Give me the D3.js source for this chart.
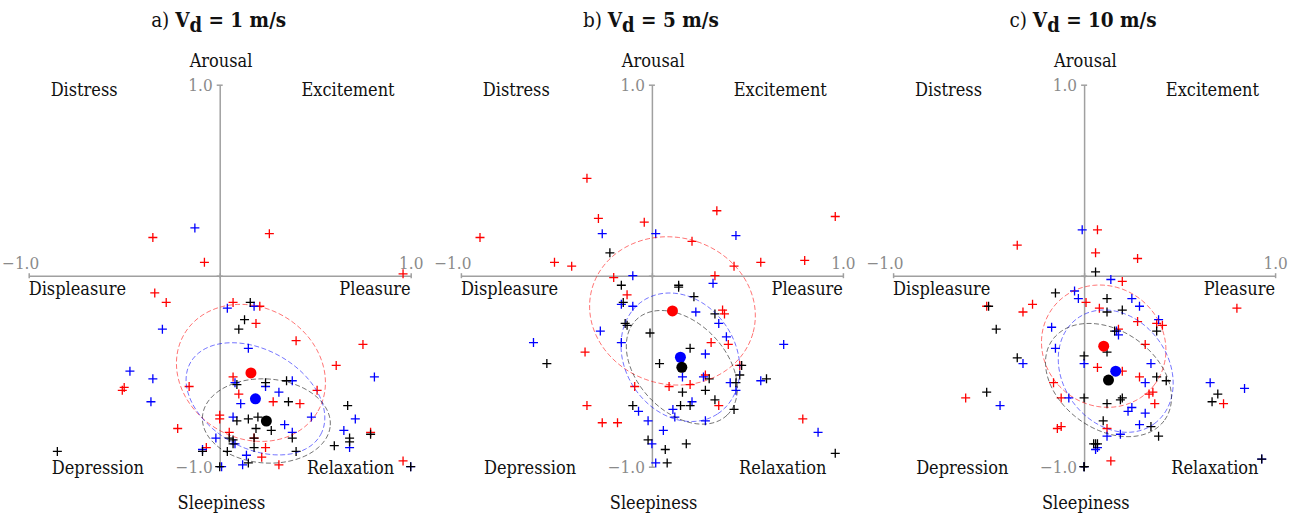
<!DOCTYPE html>
<html>
<head>
<meta charset="utf-8">
<script src="https://cdn.jsdelivr.net/npm/d3@7"></script>
<style>
  body { margin: 0; background: #fff; }
  svg text { font-family: "DejaVu Serif Condensed", "DejaVu Serif", serif; font-stretch: condensed; }
</style>
</head>
<body>
<svg id="chart" width="1296" height="514"></svg>
<script>
// valence / arousal ratings, one array per speed and group
var redA = [[-0.35,0.20],[0.26,0.22],[-0.08,0.07],[0.96,0.01],[-0.34,-0.09],[-0.28,-0.14],[0.07,-0.14],[0.21,-0.16],[0.19,-0.25],[0.40,-0.34],[0.75,-0.36],[0.61,-0.47],[-0.16,-0.58],[-0.51,-0.60],[-0.50,-0.585],[0.07,-0.53],[0.10,-0.62],[0.28,-0.66],[0.42,-0.67],[0.51,-0.60],[0.00,-0.73],[0.00,-0.75],[-0.22,-0.80],[0.05,-0.82],[0.18,-0.85],[-0.07,-0.90],[0.24,-0.90],[0.22,-0.95],[0.31,-0.99],[0.79,-0.82],[0.96,-0.97]];
var blueA = [[-0.13,0.25],[0.04,-0.17],[0.18,-0.16],[-0.30,-0.28],[0.15,-0.38],[-0.47,-0.50],[-0.35,-0.54],[-0.36,-0.66],[0.81,-0.53],[0.08,-0.56],[0.38,-0.55],[0.24,-0.58],[0.31,-0.61],[0.11,-0.67],[0.48,-0.74],[0.07,-0.74],[0.34,-0.78],[0.38,-0.82],[-0.02,-0.85],[0.08,-0.88],[0.71,-0.75],[0.65,-0.81],[0.68,-0.90],[-0.09,-0.91],[0.14,-0.94],[0.12,-0.99],[0.01,-1.0],[1.0,-1.0]];
var blackA = [[0.16,-0.14],[0.13,-0.23],[0.10,-0.28],[0.24,-0.56],[0.35,-0.55],[0.09,-0.57],[0.36,-0.66],[0.67,-0.68],[0.20,-0.74],[0.15,-0.75],[0.09,-0.76],[0.19,-0.80],[0.27,-0.81],[0.38,-0.85],[0.05,-0.85],[0.07,-0.86],[0.07,-0.88],[0.18,-0.85],[0.18,-0.90],[0.40,-0.92],[0.04,-0.92],[-0.09,-0.92],[0.15,-0.98],[0.60,-0.89],[0.68,-0.87],[0.68,-0.85],[0.79,-0.83],[1.0,-1.0],[-0.85,-0.92],[0.0,-1.0]];

var redB = [[-0.34,0.51],[-0.90,0.20],[-0.28,0.30],[-0.04,0.28],[0.34,0.34],[0.96,0.31],[0.21,0.18],[-0.51,0.07],[-0.42,0.05],[0.43,0.05],[0.57,0.07],[0.80,0.08],[-0.20,-0.01],[0.33,0.0],[-0.13,-0.10],[0.37,-0.18],[0.38,-0.20],[0.31,-0.35],[0.40,-0.36],[-0.35,-0.40],[0.46,-0.47],[-0.09,-0.58],[0.09,-0.58],[0.20,-0.57],[0.28,-0.52],[-0.34,-0.68],[-0.26,-0.77],[-0.18,-0.77],[0.35,-0.68],[0.79,-0.75]];
var blueB = [[-0.26,0.22],[0.02,0.22],[0.44,0.21],[-0.10,0.0],[0.32,-0.04],[-0.16,-0.15],[-0.10,-0.16],[0.23,-0.19],[0.35,-0.25],[0.39,-0.32],[-0.27,-0.29],[-0.62,-0.35],[-0.16,-0.35],[0.28,-0.41],[0.69,-0.36],[0.16,-0.53],[0.27,-0.53],[0.41,-0.56],[0.44,-0.60],[0.57,-0.55],[0.21,-0.66],[0.11,-0.70],[-0.07,-0.71],[-0.02,-0.76],[0.12,-0.74],[0.28,-0.76],[0.06,-0.81],[0.87,-0.82],[0.0,-0.88],[0.02,-0.98]];
var blackB = [[-0.22,0.12],[-0.16,-0.05],[0.14,-0.06],[0.14,-0.05],[0.22,-0.11],[-0.15,-0.14],[0.33,-0.20],[-0.14,-0.25],[-0.13,-0.26],[-0.01,-0.30],[0.20,-0.38],[0.04,-0.46],[-0.55,-0.46],[0.47,-0.47],[0.46,-0.52],[0.30,-0.54],[0.44,-0.56],[0.60,-0.54],[0.16,-0.61],[0.28,-0.60],[0.33,-0.65],[-0.10,-0.68],[0.15,-0.68],[0.20,-0.68],[0.43,-0.70],[-0.02,-0.86],[0.07,-0.91],[0.18,-0.88],[0.08,-0.98],[0.96,-0.93]];

var redC = [[0.07,0.24],[-0.35,0.16],[0.06,0.12],[0.28,0.09],[0.20,-0.03],[-0.51,-0.16],[-0.27,-0.15],[-0.32,-0.19],[0.01,-0.14],[0.08,-0.17],[0.80,-0.17],[0.28,-0.24],[0.38,-0.25],[0.41,-0.26],[0.18,-0.28],[0.32,-0.36],[0.07,-0.48],[0.20,-0.50],[0.29,-0.53],[-0.16,-0.56],[0.36,-0.61],[0.34,-0.62],[0.37,-0.67],[-0.12,-0.64],[-0.62,-0.64],[0.73,-0.67],[-0.12,-0.79],[-0.14,-0.80],[0.12,-0.80],[0.14,-0.97]];
var blueC = [[-0.01,0.24],[0.14,-0.02],[-0.05,-0.08],[-0.03,-0.12],[0.25,-0.12],[0.29,-0.16],[-0.17,-0.27],[0.39,-0.23],[0.17,-0.29],[0.18,-0.31],[-0.15,-0.38],[-0.32,-0.46],[0.0,-0.46],[0.35,-0.46],[0.32,-0.56],[-0.08,-0.64],[-0.44,-0.68],[0.25,-0.69],[0.23,-0.71],[0.32,-0.72],[0.66,-0.56],[0.84,-0.59],[0.29,-0.78],[0.12,-0.84],[0.19,-0.83],[0.07,-0.90],[0.06,-0.91],[0.93,-0.96],[0.0,-1.0]];
var blackC = [[0.06,0.02],[-0.15,-0.09],[-0.50,-0.16],[0.12,-0.12],[0.12,-0.19],[0.20,-0.18],[-0.46,-0.28],[0.38,-0.29],[0.16,-0.29],[-0.35,-0.43],[0.0,-0.42],[0.12,-0.40],[0.38,-0.53],[0.43,-0.55],[-0.51,-0.61],[0.0,-0.64],[0.20,-0.64],[0.19,-0.65],[0.12,-0.67],[0.70,-0.62],[0.67,-0.66],[0.10,-0.76],[0.35,-0.79],[0.39,-0.84],[0.05,-0.88],[0.07,-0.88],[0.06,-0.88],[0.0,-1.0],[0.0,-1.0],[0.93,-0.96]];

var panelLetters = ['a)', 'b)', 'c)'];
var speeds = [1, 5, 10];
var groupColors = ['#ff0000', '#0000ff', '#000000'];
var tickValues = [-1, 0, 1];
var quadrantLabels = ['Distress', 'Excitement', 'Depression', 'Relaxation'];
var axisLabels = ['Arousal', 'Sleepiness', 'Displeasure', 'Pleasure'];

var groupsByPanel = [[redA, blueA, blackA], [redB, blueB, blackB], [redC, blueC, blackC]];

var svg = d3.select('#chart');
var R = 191, CY = 275.7;

// 1-sigma covariance ellipse of a point set
function ellipse(pts) {
  var mx = d3.mean(pts, function (d) { return d[0]; });
  var my = d3.mean(pts, function (d) { return d[1]; });
  var sxx = 0, syy = 0, sxy = 0, n = pts.length;
  pts.forEach(function (d) {
    var dx = d[0] - mx, dy = d[1] - my;
    sxx += dx * dx; syy += dy * dy; sxy += dx * dy;
  });
  sxx /= (n - 1); syy /= (n - 1); sxy /= (n - 1);
  var m = (sxx + syy) / 2, h = Math.sqrt(Math.pow((sxx - syy) / 2, 2) + sxy * sxy);
  var a = Math.sqrt(m + h), b = Math.sqrt(Math.max(m - h, 0));
  var th = 0.5 * Math.atan2(2 * sxy, sxx - syy);
  return d3.range(0, 121).map(function (k) {
    var t = k / 120 * 2 * Math.PI;
    var u = a * Math.cos(t), v = b * Math.sin(t);
    return [mx + u * Math.cos(th) - v * Math.sin(th), my + u * Math.sin(th) + v * Math.cos(th)];
  });
}

groupsByPanel.forEach(function (groups, i) {
  var cx = 219.7 + 432.2 * i;
  var x = d3.scaleLinear().domain([-1, 1]).range([cx - R, cx + R]);
  var y = d3.scaleLinear().domain([-1, 1]).range([CY + R, CY - R]);
  var g = svg.append('g');

  // title
  var title = g.append('text').attr('x', cx - 1).attr('y', 26.5)
    .attr('text-anchor', 'middle').attr('font-size', 20.5).attr('fill', '#111');
  title.append('tspan').text(panelLetters[i] + ' ');
  title.append('tspan').attr('font-weight', 'bold').text('V');
  title.append('tspan').attr('font-weight', 'bold').attr('font-size', 20).attr('dy', 5).text('d');
  title.append('tspan').attr('font-weight', 'bold').attr('dy', -5).text(' = ' + speeds[i] + ' m/s');

  // axes
  var fmt = function (d) { return d === 0 ? '' : d3.format('.1f')(d); };
  var xAxis = g.append('g').attr('transform', 'translate(0,' + y(0) + ')')
    .call(d3.axisBottom(x).tickValues(tickValues).tickSize(0).tickFormat(fmt));
  xAxis.selectAll('.tick line').attr('y1', -2.5).attr('y2', 2.5);
  xAxis.selectAll('.tick text').attr('y', -13).attr('dy', '0.35em')
    .attr('text-anchor', function (d) { return d < 0 ? 'end' : 'middle'; })
    .attr('x', function (d) { return d < 0 ? 10 : 0; });

  var yAxis = g.append('g').attr('transform', 'translate(' + x(0) + ',0)')
    .call(d3.axisLeft(y).tickValues(tickValues).tickSize(0).tickFormat(fmt));
  yAxis.selectAll('.tick line').attr('x1', -3).attr('x2', 3);
  yAxis.selectAll('.tick text').attr('x', -7).attr('dy', '0.35em');

  g.selectAll('.domain, .tick line').attr('stroke', '#a0a0a0').attr('stroke-width', 1.5);
  g.selectAll('.tick text').attr('fill', '#8a8a8a').attr('font-size', 17)
    .attr('font-family', '"DejaVu Serif Condensed", "DejaVu Serif", serif');

  // circumplex labels
  var labelPos = [
    { t: quadrantLabels[0], v: -0.71, a: 0.972, anchor: 'middle' },
    { t: quadrantLabels[1], v: 0.672, a: 0.972, anchor: 'middle' },
    { t: quadrantLabels[2], v: -0.638, a: -1.005, anchor: 'middle' },
    { t: quadrantLabels[3], v: 0.685, a: -1.005, anchor: 'middle' },
    { t: axisLabels[0], v: 0.007, a: 1.124, anchor: 'middle' },
    { t: axisLabels[1], v: 0.009, a: -1.188, anchor: 'middle' },
    { t: axisLabels[2], v: -1, a: -0.07, anchor: 'start' },
    { t: axisLabels[3], v: 1, a: -0.07, anchor: 'end' }
  ];
  g.selectAll('.lab').data(labelPos).enter().append('text')
    .attr('class', 'lab')
    .attr('x', function (d) { return x(d.v); })
    .attr('y', function (d) { return y(d.a); })
    .attr('dy', '0.35em')
    .attr('text-anchor', function (d) { return d.anchor; })
    .attr('font-size', 18).attr('fill', '#111')
    .text(function (d) { return d.t; });

  var line = d3.line().x(function (d) { return x(d[0]); }).y(function (d) { return y(d[1]); });

  // individual ratings
  groups.forEach(function (pts, k) {
    g.append('g').selectAll('path').data(pts).enter().append('path')
      .attr('d', function (d) {
        var px = x(d[0]), py = y(d[1]);
        return 'M' + (px - 4.5) + ',' + py + 'H' + (px + 4.5) + 'M' + px + ',' + (py - 4.5) + 'V' + (py + 4.5);
      })
      .attr('stroke', groupColors[k]).attr('stroke-width', 1.3).attr('fill', 'none');
  });

  // spread ellipses
  groups.forEach(function (pts, k) {
    g.append('path').datum(ellipse(pts)).attr('d', line)
      .attr('fill', 'none').attr('stroke', groupColors[k]).attr('stroke-opacity', 0.55)
      .attr('stroke-width', 1).attr('stroke-dasharray', '5,2.5');
  });

  // group means
  groups.forEach(function (pts, k) {
    g.append('circle')
      .attr('cx', x(d3.mean(pts, function (d) { return d[0]; })))
      .attr('cy', y(d3.mean(pts, function (d) { return d[1]; })))
      .attr('r', 5.5).attr('fill', groupColors[k]);
  });
});
</script>
</body>
</html>
